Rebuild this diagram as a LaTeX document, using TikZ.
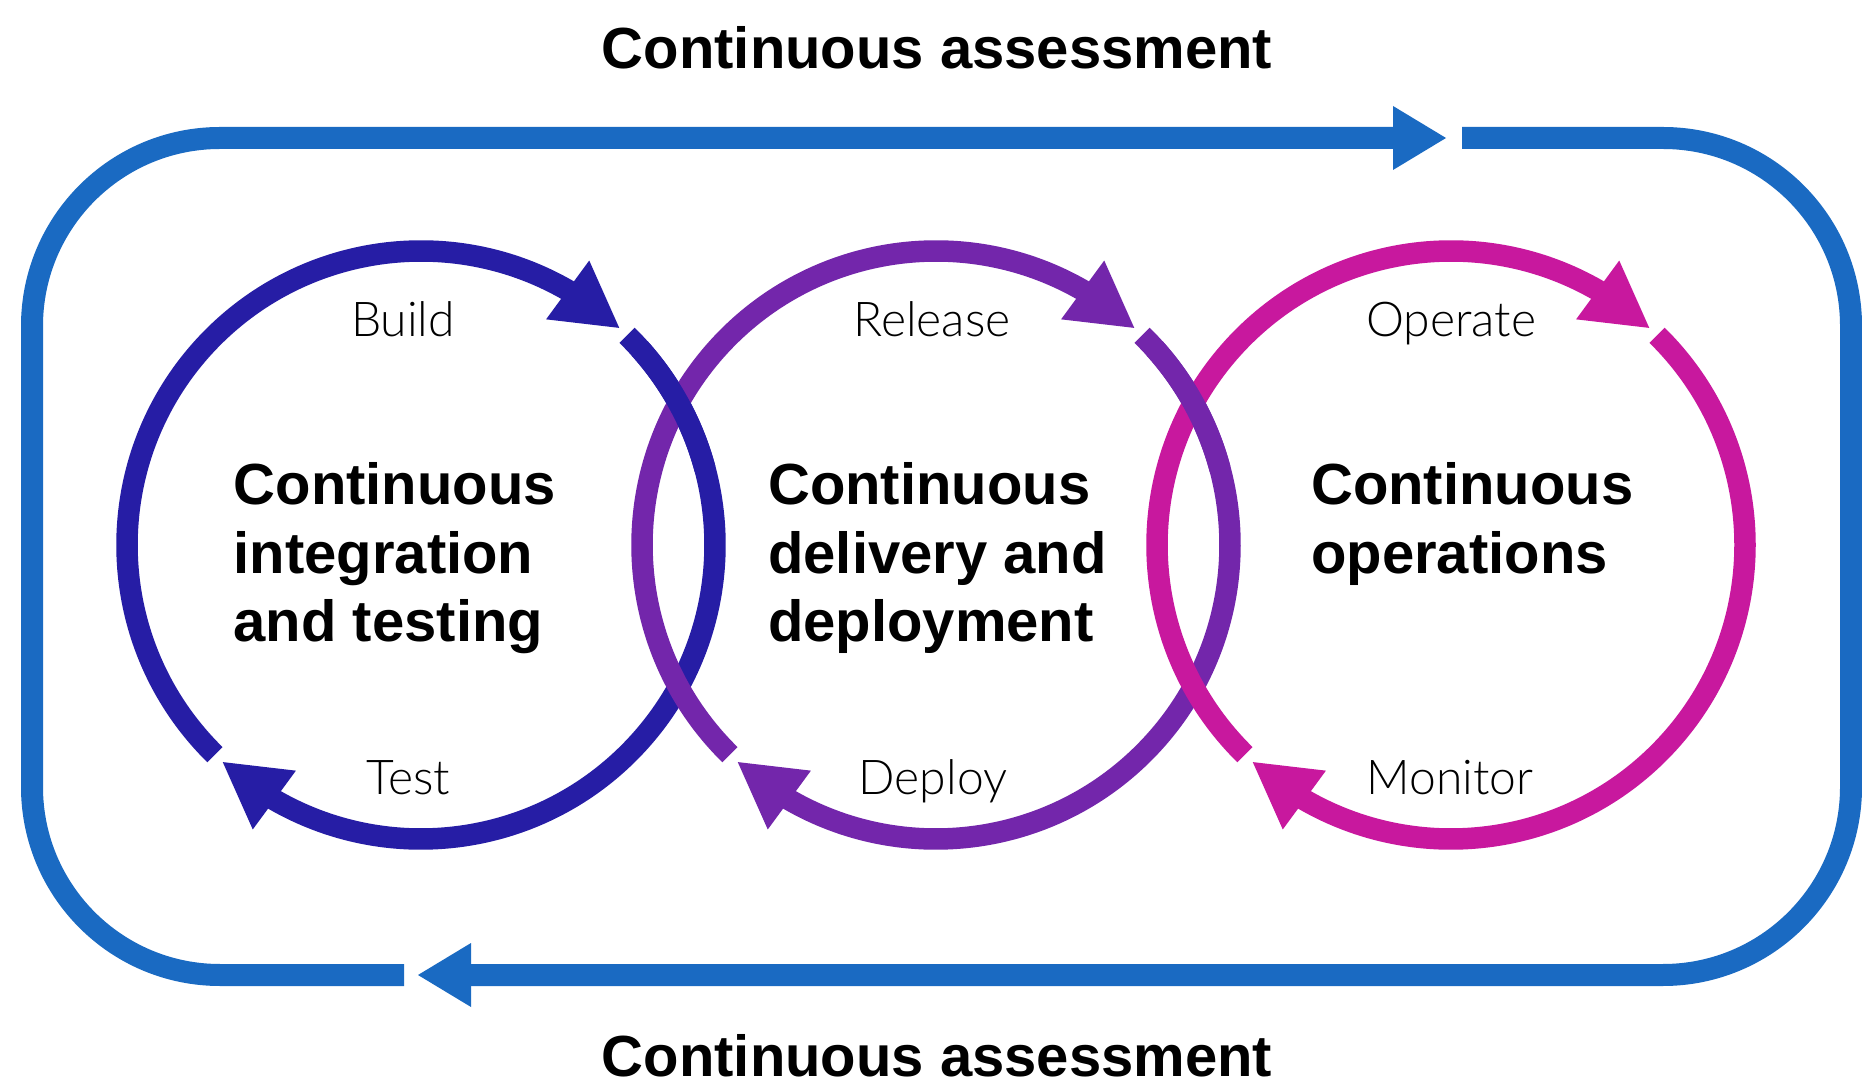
\documentclass[tikz,border=0pt]{standalone}
\usepackage{fontspec}
\setmainfont{Liberation Sans}
\newfontfamily\lightfont{Lato}[UprightFont={* Light}]
\usetikzlibrary{calc}
\definecolor{cib}{RGB}{38,29,165}
\definecolor{cdp}{RGB}{115,38,171}
\definecolor{cop}{RGB}{200,24,158}
\definecolor{cass}{RGB}{26,106,194}
\tikzset{
  ring/.style={line width=21.5pt, line cap=butt},
  outerloop/.style={line width=22pt, draw=cass, line cap=butt},
  titletext/.style={inner sep=0pt, anchor=base, font=\fontsize{58}{68.5}\selectfont\bfseries},
  boldline/.style={inner sep=0pt, anchor=base west, font=\fontsize{58}{68.5}\selectfont\bfseries},
  steplabel/.style={inner sep=0pt, anchor=base, font=\fontsize{48}{56}\selectfont\lightfont},
}
\begin{document}
\begin{tikzpicture}[x=1pt,y=1pt]
\useasboundingbox (0,0) rectangle (1862,1090);
\fill[white] (0,0) rectangle (1862,1090);
\coordinate (c1) at (421,545);
\coordinate (c2) at (936,545);
\coordinate (c3) at (1451,545);

% outer continuous assessment loop
\coordinate (topgap) at (1462,952);
\coordinate (toptip) at (1446,952);
\coordinate (topbase) at (1393,952);
\coordinate (botgap) at (404,115);
\coordinate (bottip) at (418,115);
\coordinate (botbase) at (471,115);
\draw[outerloop] (topgap) -- (1663,952) arc[start angle=90, end angle=0, radius=188pt]
  -- (1851,303) arc[start angle=0, end angle=-90, radius=188pt] -- (botbase);
\fill[cass] (bottip) -- ($(botbase)+(0,32)$) -- ($(botbase)+(0,-32)$) -- cycle;
\draw[outerloop] (botgap) -- (220,115) arc[start angle=270, end angle=180, radius=188pt]
  -- (32,764) arc[start angle=180, end angle=90, radius=188pt] -- (topbase);
\fill[cass] (toptip) -- ($(topbase)+(0,32)$) -- ($(topbase)+(0,-32)$) -- cycle;

% three cycles
\foreach \c/\col in {c1/cib, c2/cdp, c3/cop} {
  \draw[ring, draw=\col] ($(\c)+(225.5:294pt)$) arc[start angle=225.5, end angle=58, radius=294pt];
  \fill[\col] ($(\c)+(47.6:294pt)$) -- ($(\c)+(59.4:330.5pt)$) -- ($(\c)+(61:258pt)$) -- cycle;
  \draw[ring, draw=\col] ($(\c)+(45.5:294pt)$) arc[start angle=45.5, end angle=-122, radius=294pt];
  \fill[\col] ($(\c)+(227.6:294pt)$) -- ($(\c)+(239.4:330.5pt)$) -- ($(\c)+(241:258pt)$) -- cycle;
}
% weave: upper crossings lie on top
\draw[ring, draw=cib] ($(c1)+(42:294pt)$) arc[start angle=42, end angle=15, radius=294pt];
\draw[ring, draw=cdp] ($(c2)+(42:294pt)$) arc[start angle=42, end angle=15, radius=294pt];

% titles
\node[titletext] (ttop) at (937,1021) {Continuous assessment};
\node[titletext] (tbot) at (937,14) {Continuous assessment};

% step labels
\node[steplabel] (build) at (403,753) {Build};
\node[steplabel] (test) at (408,295) {Test};
\node[steplabel] (release) at (932,753) {Release};
\node[steplabel] (deploy) at (933,295) {Deploy};
\node[steplabel] (operate) at (1451,753) {Operate};
\node[steplabel] (monitor) at (1450,295) {Monitor};

% phase names
\node[boldline] (a1) at (233.5,585) {Continuous};
\node[boldline] (a2) at (233.5,516.5) {integration};
\node[boldline] (a3) at (233.5,448) {and testing};
\node[boldline] (b1) at (768,585) {Continuous};
\node[boldline] (b2) at (768,516.5) {delivery and};
\node[boldline] (b3) at (768,448) {deployment};
\node[boldline] (d1) at (1311,585) {Continuous};
\node[boldline] (d2) at (1311,516.5) {operations};
\end{tikzpicture}
\end{document}
